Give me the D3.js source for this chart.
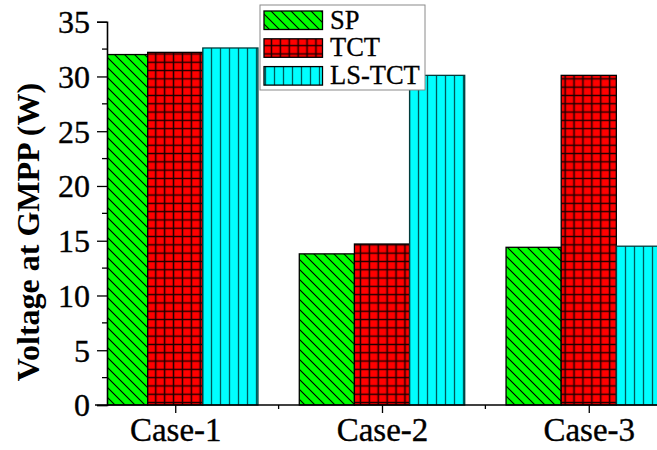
<!DOCTYPE html>
<html>
<head>
<meta charset="utf-8">
<script src="https://cdn.jsdelivr.net/npm/d3@7/dist/d3.min.js"></script>
<style>
  html, body { margin: 0; padding: 0; background: #fff; }
  svg { display: block; }
</style>
</head>
<body>
<svg id="chart" width="657" height="450"></svg>
<script>
// Voltage at the global maximum power point for three shading cases
const categories = ["Case-1", "Case-2", "Case-3"];
const seriesNames = ["SP", "TCT", "LS-TCT"];
const spValues = [32.0, 13.8, 14.4];
const tctValues = [32.2, 14.7, 30.1];
const lsTctValues = [32.6, 30.1, 14.5];
const yMajorTicks = [0, 5, 10, 15, 20, 25, 30, 35];
const yMinorTicks = [2.5, 7.5, 12.5, 17.5, 22.5, 27.5, 32.5];
const xMinorTicks = [1.5, 2.5];

const FONT = "'Liberation Serif', 'Times New Roman', Times, serif";

const series = [
  { name: seriesNames[0], values: spValues, fill: "url(#hatchSP)", stroke: "#000" },
  { name: seriesNames[1], values: tctValues, fill: "url(#hatchTCT)", stroke: "#000" },
  { name: seriesNames[2], values: lsTctValues, fill: "url(#hatchLS)", stroke: "#003c3c" }
];

const svg = d3.select("#chart");
const plotLeft = 107, plotRight = 657, plotTop = 21.7, plotBottom = 405;

// category positions are 1, 2, 3 on a continuous axis
const x = d3.scaleLinear().domain([0.67, 3.33]).range([plotLeft, plotRight]);
const y = d3.scaleLinear().domain([0, 35]).range([plotBottom, plotTop]);
const groupWidth = 0.8;
const barUnits = groupWidth / series.length;

// fill patterns
const defs = svg.append("defs");
const pSP = defs.append("pattern").attr("id", "hatchSP")
  .attr("patternUnits", "userSpaceOnUse").attr("width", 10).attr("height", 10);
pSP.append("rect").attr("width", 10).attr("height", 10).attr("fill", "#00ff00");
pSP.append("path").attr("d", "M-5,5 L5,15 M0,0 L10,10 M5,-5 L15,5")
  .attr("stroke", "#000").attr("stroke-width", 1.1);

const pTCT = defs.append("pattern").attr("id", "hatchTCT")
  .attr("patternUnits", "userSpaceOnUse").attr("width", 8.9).attr("height", 8.3);
pTCT.append("rect").attr("width", 8.9).attr("height", 8.3).attr("fill", "#ff0000");
pTCT.append("path").attr("d", "M4.45,0 V8.3 M0,4.15 H8.9")
  .attr("stroke", "#1a0000").attr("stroke-width", 1.5);

const pLS = defs.append("pattern").attr("id", "hatchLS")
  .attr("patternUnits", "userSpaceOnUse").attr("width", 9).attr("height", 9);
pLS.append("rect").attr("width", 9).attr("height", 9).attr("fill", "#00ffff");
pLS.append("path").attr("d", "M4.5,0 V9")
  .attr("stroke", "#005a5a").attr("stroke-width", 1.3);

defs.append("clipPath").attr("id", "plotClip")
  .append("rect").attr("x", plotLeft).attr("y", 0)
  .attr("width", plotRight - plotLeft).attr("height", plotBottom + 1);

// bars
const barLayer = svg.append("g").attr("clip-path", "url(#plotClip)");
series.forEach((s, j) => {
  const x0 = i => x(i + 1 - groupWidth / 2 + j * barUnits);
  const x1 = i => x(i + 1 - groupWidth / 2 + (j + 1) * barUnits);
  barLayer.selectAll(null)
    .data(s.values)
    .enter().append("rect")
    .attr("x", (d, i) => x0(i))
    .attr("width", (d, i) => x1(i) - x0(i))
    .attr("y", d => y(d))
    .attr("height", d => y(0) - y(d))
    .attr("fill", s.fill)
    .attr("stroke", s.stroke)
    .attr("stroke-width", 1.3);
});

// y axis
const yAxis = svg.append("g").attr("transform", `translate(${plotLeft},0)`)
  .call(d3.axisLeft(y).tickValues(yMajorTicks).tickSize(10).tickPadding(7).tickFormat(d3.format("d")));
yAxis.append("g").selectAll("line").data(yMinorTicks).enter().append("line")
  .attr("x1", 0).attr("x2", -5).attr("y1", d => y(d)).attr("y2", d => y(d))
  .attr("stroke", "#000").attr("stroke-width", 1.3);
yAxis.attr("font-family", FONT).attr("font-size", 32);
yAxis.selectAll(".tick text").attr("dy", "0.34em").attr("fill", "#000")
  .attr("stroke", "#000").attr("stroke-width", 0.35);

// x axis
const xAxis = svg.append("g").attr("transform", `translate(0,${plotBottom})`)
  .call(d3.axisBottom(x).tickValues([1, 2, 3]).tickSize(8).tickSizeOuter(0)
    .tickFormat(d => categories[d - 1]));
xAxis.append("g").selectAll("line").data(xMinorTicks).enter().append("line")
  .attr("x1", d => x(d)).attr("x2", d => x(d)).attr("y1", 0).attr("y2", 4)
  .attr("stroke", "#000").attr("stroke-width", 1.3);
xAxis.attr("font-family", FONT).attr("font-size", 33);
xAxis.selectAll(".tick text").attr("dy", null).attr("y", 36).attr("fill", "#000")
  .attr("stroke", "#000").attr("stroke-width", 0.35);

[yAxis, xAxis].forEach(a => {
  a.selectAll("path.domain").attr("stroke", "#000").attr("stroke-width", 1.6);
  a.selectAll(".tick line").attr("stroke", "#000").attr("stroke-width", 1.3);
});
xAxis.select("path.domain").attr("d", `M${plotLeft - 12},0H${plotRight}`);

// y axis title
svg.append("text")
  .attr("transform", "translate(39,232) rotate(-90)")
  .attr("text-anchor", "middle")
  .attr("font-family", FONT).attr("font-size", 32).attr("font-weight", "bold")
  .text("Voltage at GMPP (W)");

// legend
const legend = svg.append("g").attr("font-family", FONT).attr("font-size", 26.5);
legend.append("rect").attr("x", 260).attr("y", 5).attr("width", 165).attr("height", 85)
  .attr("fill", "#fff").attr("stroke", "#8a8a8a").attr("stroke-width", 1);
series.forEach((s, j) => {
  const rowTop = 11 + j * 27.8;
  legend.append("rect").attr("x", 264).attr("y", rowTop).attr("width", 58.5).attr("height", 18.5)
    .attr("fill", s.fill).attr("stroke", "#000").attr("stroke-width", 1.3);
  legend.append("text").attr("x", 330).attr("y", 28.5 + j * 27.5)
    .attr("stroke", "#000").attr("stroke-width", 0.3).text(s.name);
});
</script>
</body>
</html>
